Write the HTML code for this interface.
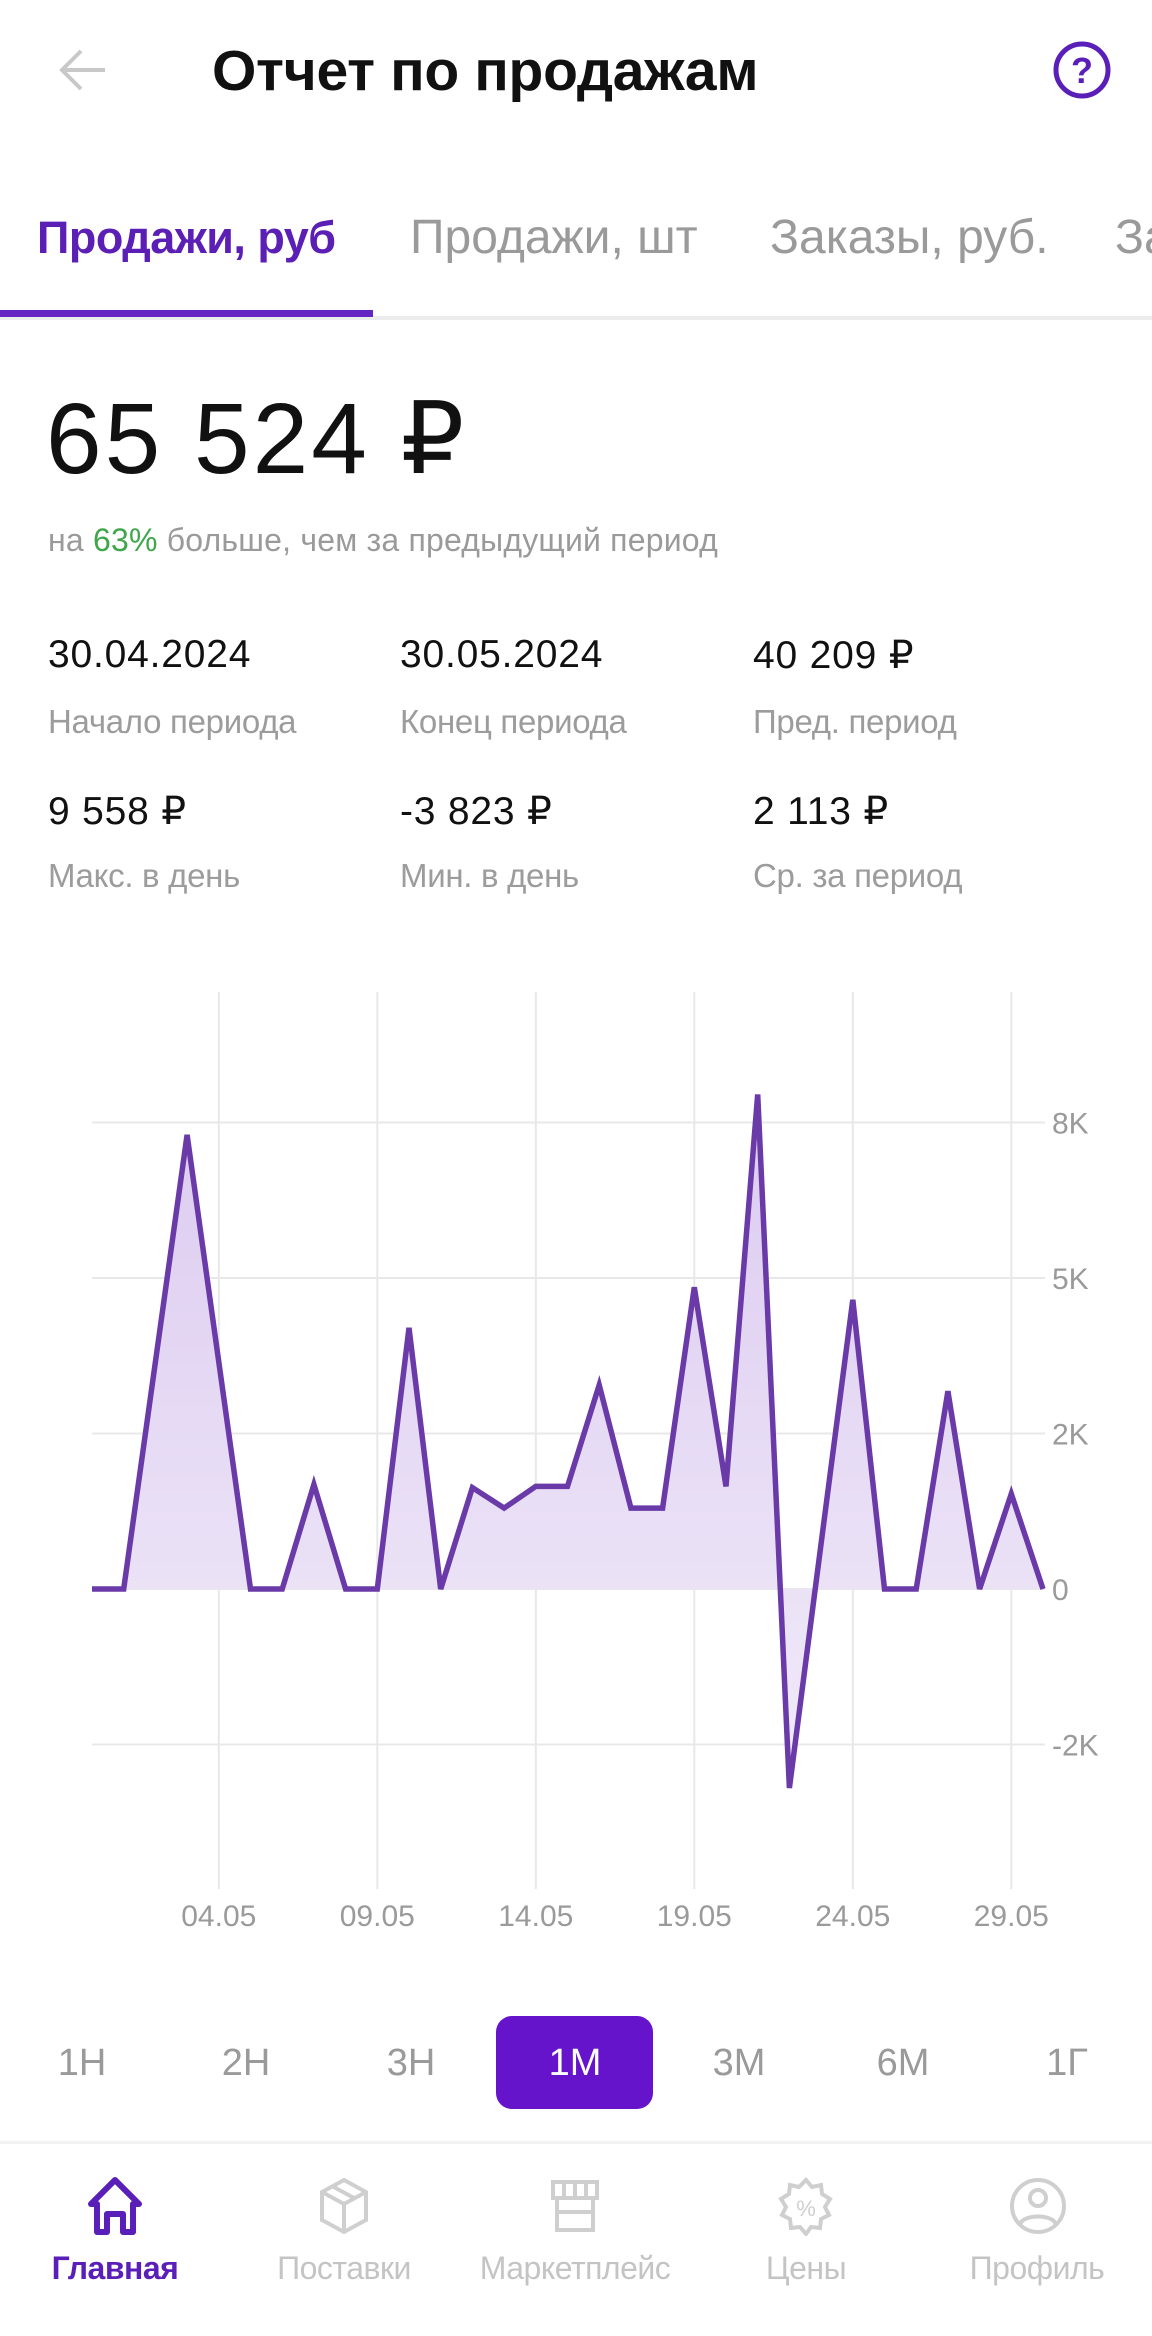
<!DOCTYPE html>
<html><head><meta charset="utf-8">
<style>
*{margin:0;padding:0;box-sizing:border-box}
body{width:1152px;height:2336px;background:#fff;position:relative;overflow:hidden;font-family:"Liberation Sans","Noto Sans CJK SC",sans-serif;}
.a{position:absolute;white-space:nowrap}
.tab{font-size:48px;color:#9a9a9a;top:210px}
.val{font-size:39px;color:#111;letter-spacing:0.8px}
.lbl{font-size:33px;color:#9c9c9c;letter-spacing:-0.3px}
.per{font-size:38px;color:#9a9a9a;top:2042px;width:100px;text-align:center}
.nav{font-size:32px;color:#c4c4c4;top:2250px;width:220px;text-align:center;letter-spacing:-0.5px}
</style></head><body>
<div class="a" style="left:0;top:0;width:1152px;height:150px;background:#fff"></div>
<svg class="a" style="left:55px;top:45px" width="56" height="50" viewBox="0 0 56 50"><path d="M50 25H8M26 6L7 25l19 19" stroke="#c8c8c8" stroke-width="4" fill="none"/></svg>
<div class="a" style="left:212px;top:38px;font-size:57px;font-weight:bold;color:#111;letter-spacing:-0.3px">Отчет по продажам</div>
<svg class="a" style="left:1052px;top:40px" width="60" height="60" viewBox="0 0 60 60"><circle cx="30" cy="30" r="26" stroke="#5a1fb8" stroke-width="5" fill="none"/><text x="30" y="43" text-anchor="middle" font-size="36" font-weight="bold" fill="#5a1fb8" font-family="Liberation Sans">?</text></svg>

<div class="a tab" style="left:37px;color:#5b1fb5;font-weight:bold;font-size:45px;top:212px;letter-spacing:-0.5px">Продажи, руб</div>
<div class="a tab" style="left:410px">Продажи, шт</div>
<div class="a tab" style="left:770px">Заказы, руб.</div>
<div class="a tab" style="left:1115px">За</div>
<div class="a" style="left:0;top:316px;width:1152px;height:4px;background:#ececec"></div>
<div class="a" style="left:0;top:310px;width:373px;height:7px;background:#6425c2"></div>

<div class="a" style="left:46px;top:380px;font-size:100px;color:#111;letter-spacing:3px">65 524 ₽</div>
<div class="a" style="left:48px;top:522px;font-size:32px;color:#9a9a9a;letter-spacing:0.2px">на <span style="color:#3fa64a">63%</span> больше, чем за предыдущий период</div>

<div class="a val" style="left:48px;top:633px">30.04.2024</div>
<div class="a lbl" style="left:48px;top:703px">Начало периода</div>
<div class="a val" style="left:400px;top:633px">30.05.2024</div>
<div class="a lbl" style="left:400px;top:703px">Конец периода</div>
<div class="a val" style="left:753px;top:633px">40 209 ₽</div>
<div class="a lbl" style="left:753px;top:703px">Пред. период</div>
<div class="a val" style="left:48px;top:789px">9 558 ₽</div>
<div class="a lbl" style="left:48px;top:857px">Макс. в день</div>
<div class="a val" style="left:400px;top:789px">-3 823 ₽</div>
<div class="a lbl" style="left:400px;top:857px">Мин. в день</div>
<div class="a val" style="left:753px;top:789px">2 113 ₽</div>
<div class="a lbl" style="left:753px;top:857px">Ср. за период</div>

<svg id="chart" class="a" style="left:0;top:0" width="1152" height="2336"></svg>

<div class="a" style="left:496px;top:2016px;width:157px;height:93px;border-radius:16px;background:#6613cc"></div>
<div class="a per" style="left:32px">1Н</div>
<div class="a per" style="left:196px">2Н</div>
<div class="a per" style="left:361px">3Н</div>
<div class="a per" style="left:525px;color:#fff">1М</div>
<div class="a per" style="left:689px">3М</div>
<div class="a per" style="left:853px">6М</div>
<div class="a per" style="left:1017px">1Г</div>

<div class="a" style="left:0;top:2141px;width:1152px;height:3px;background:#f2f2f2"></div>
<svg class="a" style="left:85px;top:2176px" width="60" height="60" viewBox="0 0 60 60"><path d="M30 4L6 28h6v28h10V38h16v18h10V28h6z M22 38v10 M38 38v10" fill="none" stroke="#5a1fb8" stroke-width="6" stroke-linejoin="round"/></svg>
<svg class="a" style="left:316px;top:2176px" width="56" height="60" viewBox="0 0 56 60"><path d="M28 4L50 16v28L28 56 6 44V16z M6 16l22 12 22-12 M28 28v28 M16 10l22 12" fill="none" stroke="#cfcfcf" stroke-width="4"/></svg>
<svg class="a" style="left:547px;top:2176px" width="56" height="60" viewBox="0 0 56 60"><path d="M6 6h44v16H6z M10 22v32h36V22 M17 6v16 M28 6v16 M39 6v16 M10 36h36" fill="none" stroke="#cfcfcf" stroke-width="4"/></svg>
<svg class="a" style="left:778px;top:2176px" width="56" height="60" viewBox="0 0 56 60"><path d="M28 4l6 7 9-2 1 9 8 5-5 8 4 8-8 4-1 9-9-1-5 7-6-7-9 1-1-9-8-4 4-8-5-8 8-5 1-9 9 2z" fill="none" stroke="#cfcfcf" stroke-width="4"/><text x="28" y="40" text-anchor="middle" font-size="22" fill="#cfcfcf" font-family="Liberation Sans">%</text></svg>
<svg class="a" style="left:1008px;top:2176px" width="60" height="60" viewBox="0 0 60 60"><circle cx="30" cy="30" r="26" fill="none" stroke="#cfcfcf" stroke-width="4"/><circle cx="30" cy="22" r="8" fill="none" stroke="#cfcfcf" stroke-width="4"/><path d="M12 48c4-10 32-10 36 0" fill="none" stroke="#cfcfcf" stroke-width="4"/></svg>
<div class="a nav" style="left:5px;color:#5a1fb8;font-weight:bold">Главная</div>
<div class="a nav" style="left:234px">Поставки</div>
<div class="a nav" style="left:465px">Маркетплейс</div>
<div class="a nav" style="left:696px">Цены</div>
<div class="a nav" style="left:927px">Профиль</div>

<script>
const values = [0,0,3650,7300,3650,0,0,1680,0,0,4200,0,1630,1300,1650,1650,3280,1300,1300,4850,1650,7950,-3200,730,4650,0,0,3180,0,1530,0];
const xTickLabels = ["04.05","09.05","14.05","19.05","24.05","29.05"];
const xTickIndex = [4,9,14,19,24,29];
const yTickValues = [7500,5000,2500,0,-2500];
const yTickLabels = ["8K","5K","2K","0","-2K"];

const NS="http://www.w3.org/2000/svg";
const svg=document.getElementById('chart');
const x0=92, dx=31.7, zeroY=1589, perUnit=155.5/2500;
const X=i=>x0+i*dx;
const Y=v=>zeroY-v*perUnit;
function mk(tag,attrs){const e=document.createElementNS(NS,tag);for(const k in attrs)e.setAttribute(k,attrs[k]);svg.appendChild(e);return e;}

const defs=mk('defs',{});
defs.innerHTML='<linearGradient id="fg" x1="0" y1="0" x2="0" y2="1"><stop offset="0" stop-color="#dccbf0"/><stop offset="1" stop-color="#f1ebf9"/></linearGradient>';

xTickIndex.forEach((idx,k)=>{
  const l=mk('line',{x1:X(idx),x2:X(idx),y1:992,y2:1889,stroke:'#e8e8e8','stroke-width':2});
  
  
  const t=mk('text',{x:X(idx),y:1926,'text-anchor':'middle','font-size':30,fill:'#9a9a9a','font-family':'Liberation Sans'});
  t.textContent=xTickLabels[k];
  
  
});
yTickValues.forEach((v,k)=>{
  const l=mk('line',{x1:92,x2:1045,y1:Y(v),y2:Y(v),stroke:'#e8e8e8','stroke-width':2});
  
  
  const t=mk('text',{x:1052,y:Y(v)+11,'font-size':30,fill:'#9a9a9a','font-family':'Liberation Sans'});
  t.textContent=yTickLabels[k];
  
  
});
let pts=values.map((v,i)=>X(i).toFixed(1)+','+Y(v).toFixed(1));
const area=mk('polygon',{points:X(0)+','+zeroY+' '+pts.join(' ')+' '+X(values.length-1)+','+zeroY,fill:'url(#fg)'});


const line=mk('polyline',{points:pts.join(' '),fill:'none',stroke:'#6a3aa8','stroke-width':5.5,'stroke-linejoin':'miter'});


</script>
</body></html>
